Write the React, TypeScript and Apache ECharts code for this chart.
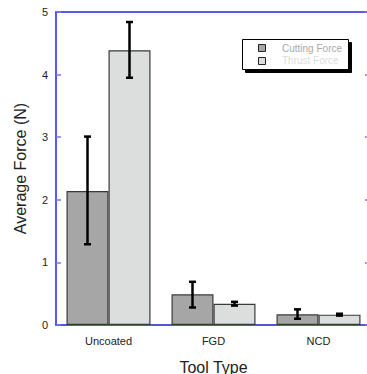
import React, { useEffect, useRef } from "react";
import * as echarts from "echarts";

const categories = ["Uncoated", "FGD", "NCD"];
const cuttingForce = [2.14, 0.49, 0.17];
const cuttingLow = [1.29, 0.28, 0.1];
const cuttingHigh = [3.01, 0.69, 0.25];
const thrustForce = [4.39, 0.34, 0.165];
const thrustLow = [3.95, 0.31, 0.15];
const thrustHigh = [4.84, 0.37, 0.18];
const yTicks = [0, 1, 2, 3, 4, 5];

export default function App() {
  const ref = useRef<HTMLDivElement>(null);
  useEffect(() => {
    if (!ref.current) return;
    const chart = echarts.init(ref.current, undefined, { renderer: "svg" });
    const errSeries = (name: string, lows: number[], highs: number[], side: number) => ({
      type: "custom",
      name,
      xAxisIndex: 0,
      yAxisIndex: 0,
      silent: true,
      data: lows.map((l, i) => [i, l, highs[i]]),
      renderItem: (params: any, api: any) => {
        const i = api.value(0);
        const band = api.size([1, 0])[0];
        const lo = api.coord([i, api.value(1)]);
        const hi = api.coord([i, api.value(2)]);
        const x = lo[0] + side * 0.2 * band;
        const cap = 3.5;
        const st = { stroke: "#000", lineWidth: 2.5 };
        return {
          type: "group",
          children: [
            { type: "line", shape: { x1: x, y1: lo[1], x2: x, y2: hi[1] }, style: st },
            { type: "line", shape: { x1: x - cap, y1: lo[1], x2: x + cap, y2: lo[1] }, style: st },
            { type: "line", shape: { x1: x - cap, y1: hi[1], x2: x + cap, y2: hi[1] }, style: st },
          ],
        };
      },
      z: 5,
    });
    const font = "Liberation Sans, Arial, sans-serif";
    chart.setOption({
      animation: false,
      grid: { left: 56, top: 12, bottom: 49, right: -4, outerBoundsMode: "none", containLabel: false },
      xAxis: [
        {
          type: "category",
          data: categories,
          position: "bottom",
          axisLine: { onZero: false, lineStyle: { color: "#1e1ecc", width: 1.5 } },
          axisTick: { inside: true, length: 5, lineStyle: { color: "#7777ee", width: 1.5 } },
          axisLabel: { color: "#222", fontSize: 11, fontFamily: font, margin: 10 },
          name: "Tool Type",
          nameLocation: "middle",
          nameGap: 34,
          nameTextStyle: { color: "#222", fontSize: 16, fontFamily: font },
        },
        {
          type: "category",
          data: categories,
          position: "top",
          axisLine: { onZero: false, lineStyle: { color: "#2222ee", width: 1.5 } },
          axisTick: { inside: true, length: 5, lineStyle: { color: "#7777ee", width: 1.5 } },
          axisLabel: { show: false },
        },
      ],
      yAxis: [
        {
          type: "value",
          min: 0,
          max: 5,
          interval: 1,
          data: yTicks,
          axisLine: { show: true, onZero: false, lineStyle: { color: "#2222ee", width: 1.5 } },
          axisTick: { show: true, inside: true, length: 5, lineStyle: { color: "#7777ee", width: 1.5 } },
          axisLabel: { color: "#222", fontSize: 11, fontFamily: font, margin: 8 },
          splitLine: { show: false },
          name: "Average Force (N)",
          nameLocation: "middle",
          nameGap: 28,
          nameTextStyle: { color: "#222", fontSize: 16, fontFamily: font },
        },
        {
          type: "value",
          min: 0,
          max: 5,
          interval: 1,
          position: "right",
          axisLine: { show: true, onZero: false, lineStyle: { color: "#2222ee", width: 1.5 } },
          axisTick: { show: true, inside: true, length: 6, lineStyle: { color: "#7777ee", width: 1.5 } },
          axisLabel: { show: false },
          splitLine: { show: false },
        },
      ],
      series: [
        {
          type: "bar",
          name: "Cutting Force",
          data: cuttingForce,
          barGap: "0%",
          barCategoryGap: "20%",
          itemStyle: { color: "#a6a6a6", borderColor: "#3a3a3a", borderWidth: 1.2 },
        },
        {
          type: "bar",
          name: "Thrust Force",
          data: thrustForce,
          barGap: "0%",
          barCategoryGap: "20%",
          itemStyle: { color: "#dcdddd", borderColor: "#3a3a3a", borderWidth: 1.2 },
        },
        errSeries("Cutting Force err", cuttingLow, cuttingHigh, -1),
        errSeries("Thrust Force err", thrustLow, thrustHigh, 1),
      ],
      graphic: [
        {
          type: "rect",
          left: 242,
          top: 39,
          shape: { width: 106, height: 30 },
          style: { fill: "#fff", stroke: "#000", lineWidth: 1, shadowColor: "#000", shadowOffsetX: 3, shadowOffsetY: 3, shadowBlur: 0 },
          z: 10,
        },
        {
          type: "rect",
          left: 258,
          top: 44,
          shape: { width: 7, height: 7 },
          style: { fill: "#a6a6a6", stroke: "#222", lineWidth: 1 },
          z: 11,
        },
        {
          type: "rect",
          left: 258,
          top: 57,
          shape: { width: 7, height: 7 },
          style: { fill: "#dcdddd", stroke: "#222", lineWidth: 1 },
          z: 11,
        },
        {
          type: "text",
          left: 282,
          top: 43,
          style: { text: "Cutting Force", fill: "#aaaaaa", fontSize: 10, fontFamily: font },
          z: 11,
        },
        {
          type: "text",
          left: 282,
          top: 55,
          style: { text: "Thrust Force", fill: "#dcdcdc", fontSize: 10, fontFamily: font },
          z: 11,
        },
      ],
    });
    return () => chart.dispose();
  }, []);
  return (
    <div style={{ position: "fixed", left: 0, top: 0, width: 367, height: 374, overflow: "hidden", background: "#fff" }}>
      <div ref={ref} style={{ width: 367, height: 374 }} />
    </div>
  );
}
